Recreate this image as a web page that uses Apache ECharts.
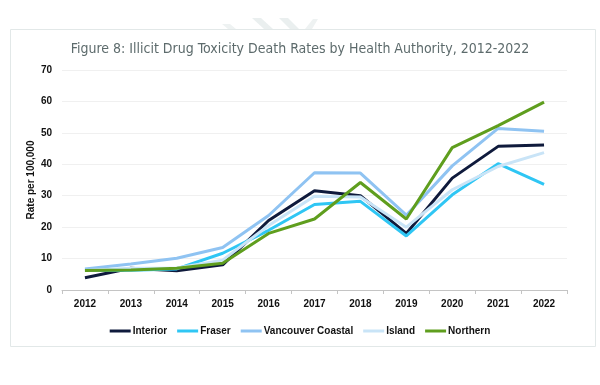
<!DOCTYPE html>
<html><head><meta charset="utf-8">
<script src="https://cdn.jsdelivr.net/npm/echarts@6/dist/echarts.min.js"></script>
<style>html,body{margin:0;padding:0;background:#fff}#c{width:600px;height:385px}</style>
</head><body><div id="c"></div>
<script>
const years = ['2012','2013','2014','2015','2016','2017','2018','2019','2020','2021','2022'];
const interior = [3.9, 6.9, 6.1, 8.0, 22.1, 31.6, 30.0, 18.0, 35.6, 45.7, 46.1];
const fraser = [6.2, 6.3, 6.7, 11.7, 19.0, 27.2, 28.2, 17.2, 30.3, 40.2, 33.6];
const vancouverCoastal = [6.7, 8.3, 10.1, 13.5, 23.7, 37.3, 37.2, 23.8, 39.5, 51.4, 50.5];
const island = [6.2, 6.9, 7.0, 9.5, 20.5, 29.8, 29.6, 20.0, 31.9, 39.3, 43.7];
const northern = [6.2, 6.4, 6.9, 8.5, 18.0, 22.6, 34.2, 22.6, 45.3, 52.3, 59.8];
const yTicks = [0, 10, 20, 30, 40, 50, 60, 70];

const seriesDefs = [
  ['Interior', interior, '#0f1a3c'],
  ['Fraser', fraser, '#2fc6f4'],
  ['Vancouver Coastal', vancouverCoastal, '#8fc3f2'],
  ['Island', island, '#c9e4f7'],
  ['Northern', northern, '#5f9e1e']
];
const TITLE_FONT = "'DejaVu Sans Condensed', sans-serif";
const FONT = "'Liberation Sans', Arial, sans-serif";
const chart = echarts.init(document.getElementById('c'), null, {renderer: 'canvas'});
chart.setOption({
  animation: false,
  backgroundColor: '#fff',
  graphic: [
    {type: 'rect', shape: {x: 10.5, y: 29.5, width: 585, height: 317}, style: {fill: 'none', stroke: '#e2e8e8', lineWidth: 1}, z: -1},
    {type: 'polygon', shape: {points: [[222, 24], [230, 24], [236, 29], [228, 29]]}, style: {fill: '#eef2f2'}, z: -2},
    {type: 'polygon', shape: {points: [[252, 18], [261, 18], [273, 29], [264, 29]]}, style: {fill: '#eaefef'}, z: -2},
    {type: 'polygon', shape: {points: [[279, 18], [288, 18], [299, 29], [290, 29]]}, style: {fill: '#eaefef'}, z: -2},
    {type: 'polygon', shape: {points: [[305, 29], [313, 19], [318, 19], [312, 29]]}, style: {fill: '#eef2f2'}, z: -2}
  ],
  title: {
    text: 'Figure 8: Illicit Drug Toxicity Death Rates by Health Authority, 2012-2022',
    left: 'center', top: 37,
    textStyle: {fontFamily: TITLE_FONT, fontSize: 14, fontWeight: 'normal', color: '#5d6b6c'}
  },
  legend: {
    top: 321, left: 'center',
    itemWidth: 21, itemHeight: 3, itemGap: 10,
    icon: 'rect',
    textStyle: {fontFamily: FONT, fontSize: 10, fontWeight: 'bold', color: '#111', padding: [0, 0, 0, -3]},
    data: seriesDefs.map(s => s[0])
  },
  grid: {left: 62, right: 33, top: 70, bottom: 95},
  xAxis: {
    type: 'category', data: years, boundaryGap: true,
    axisLine: {lineStyle: {color: '#c4c4c4', width: 1}},
    axisTick: {show: true, length: 4, lineStyle: {color: '#c4c4c4'}},
    axisLabel: {fontFamily: FONT, fontSize: 10, fontWeight: 'bold', color: '#111', margin: 9}
  },
  yAxis: {
    type: 'value', min: yTicks[0], max: yTicks[yTicks.length - 1], interval: 10,
    name: 'Rate per 100,000', nameLocation: 'middle', nameGap: 26, nameMoveOverlap: false,
    nameTextStyle: {fontFamily: FONT, fontSize: 10, fontWeight: 'bold', color: '#111'},
    axisLine: {show: false}, axisTick: {show: false},
    splitLine: {lineStyle: {color: '#f0f0f0'}},
    axisLabel: {fontFamily: FONT, fontSize: 10, fontWeight: 'bold', color: '#111', margin: 10}
  },
  series: seriesDefs.map(([name, data, color]) => ({
    name, type: 'line', data, symbol: 'none',
    lineStyle: {color, width: 3}, itemStyle: {color}
  }))
});
</script></body></html>
